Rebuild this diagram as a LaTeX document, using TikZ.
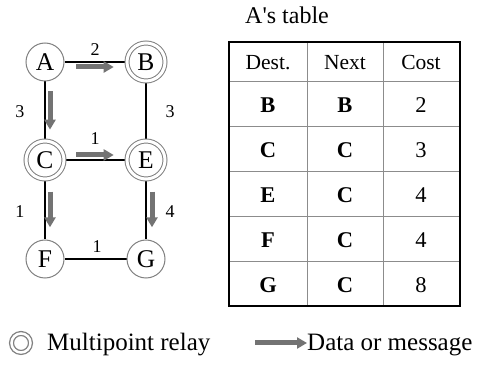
\documentclass[tikz,border=0pt]{standalone}
\usepackage{fontspec}
\setmainfont{Liberation Serif}
\usetikzlibrary{arrows.meta,calc,backgrounds}
\begin{document}
\begin{tikzpicture}[x=1pt,y=-1pt,
  nd/.style={circle,draw=black!50,line width=1pt,fill=white,minimum size=38pt,
    inner sep=0pt,font=\fontsize{25.5}{25.5}\selectfont},
  relay/.style={nd,double=white,double distance=3pt,minimum size=38pt},
  link/.style={line width=1.2pt,black},
  flow/.style={line width=5pt,black!55,-{Triangle[length=10pt,width=11pt]}},
  lbl/.style={inner sep=0pt,font=\fontsize{18}{18}\selectfont},
  hd/.style={anchor=base,inner sep=0pt,font=\fontsize{21.5}{21.5}\selectfont},
  cell/.style={anchor=base,inner sep=0pt,font=\fontsize{22.5}{22.5}\selectfont},
  grid/.style={line width=1pt,black!45},
  legtext/.style={anchor=base west,inner sep=0pt,font=\fontsize{25}{25}\selectfont}]
\useasboundingbox (0,0) rectangle (480,371);

% network nodes
\node[nd]    (A) at (45,62)   {A};
\node[relay] (B) at (146,62)  {B};
\node[relay] (C) at (45,160)  {C};
\node[relay] (E) at (146,160) {E};
\node[nd]    (F) at (45,259)  {F};
\node[nd]    (G) at (146,259) {G};

% links
\begin{scope}[on background layer]
  \draw[link] (A) -- (B);
  \draw[link] (A) -- (C);
  \draw[link] (B) -- (E);
  \draw[link] (C) -- (E);
  \draw[link] (C) -- (F);
  \draw[link] (E) -- (G);
  \draw[link] (F) -- (G);
\end{scope}

% link costs
\node[lbl] (cAB) at (95,50)  {2};
\node[lbl] (cAC) at (20,112) {3};
\node[lbl] (cBE) at (170,112) {3};
\node[lbl] (cCE) at (95,139) {1};
\node[lbl] (cCF) at (20,212) {1};
\node[lbl] (cEG) at (170,212) {4};
\node[lbl] (cFG) at (97,247) {1};

% data flow from A
\coordinate (ab1) at ($(A)!0.31!(B)+(0,5)$);
\coordinate (ab2) at ($(A)!0.68!(B)+(0,5)$);
\draw[flow] (ab1) -- (ab2);
\coordinate (ac1) at ($(A)!0.30!(C)+(5,0)$);
\coordinate (ac2) at ($(A)!0.69!(C)+(5,0)$);
\draw[flow] (ac1) -- (ac2);
\coordinate (ce1) at ($(C)!0.31!(E)+(0,-5)$);
\coordinate (ce2) at ($(C)!0.68!(E)+(0,-5)$);
\draw[flow] (ce1) -- (ce2);
\coordinate (cf1) at ($(C)!0.32!(F)+(5,0)$);
\coordinate (cf2) at ($(C)!0.68!(F)+(5,0)$);
\draw[flow] (cf1) -- (cf2);
\coordinate (eg1) at ($(E)!0.32!(G)+(6,0)$);
\coordinate (eg2) at ($(E)!0.68!(G)+(6,0)$);
\draw[flow] (eg1) -- (eg2);

% routing table of A
\node[anchor=base west,inner sep=0pt,font=\fontsize{24}{24}\selectfont] (title) at (245,24) {A\textquotesingle s table};
\draw[grid] (307,42) -- (307,306) (383,42) -- (383,306);
\foreach \yy in {82,127,172,217,262} \draw[grid] (229,\yy) -- (460,\yy);
\draw[line width=2.2pt] (229,42) rectangle (460,306);

\node[hd] (h1) at (268,70) {Dest.};
\node[hd] (h2) at (345,70) {Next};
\node[hd] (h3) at (421,70) {Cost};

\node[cell] (d1) at (268,113) {\textbf{B}};
\node[cell] (n1) at (345,113) {\textbf{B}};
\node[cell] (k1) at (421,113) {2};
\node[cell] (d2) at (268,158) {\textbf{C}};
\node[cell] (n2) at (345,158) {\textbf{C}};
\node[cell] (k2) at (421,158) {3};
\node[cell] (d3) at (268,203) {\textbf{E}};
\node[cell] (n3) at (345,203) {\textbf{C}};
\node[cell] (k3) at (421,203) {4};
\node[cell] (d4) at (268,248) {\textbf{F}};
\node[cell] (n4) at (345,248) {\textbf{C}};
\node[cell] (k4) at (421,248) {4};
\node[cell] (d5) at (268,293) {\textbf{G}};
\node[cell] (n5) at (345,293) {\textbf{C}};
\node[cell] (k5) at (421,293) {8};

% legend
\node[circle,draw=black!50,line width=1.3pt,double=white,double distance=2.5pt,
  minimum size=19pt,inner sep=0pt] (legrelay) at (21,343) {};
\node[legtext] (legrelaytxt) at (47,351) {Multipoint relay};
\coordinate (lf1) at (255,343);
\node[legtext] (legflowtxt) at (307,351) {Data or message};
\draw[flow] (lf1) -- (legflowtxt.west |- lf1);
\end{tikzpicture}
\end{document}
